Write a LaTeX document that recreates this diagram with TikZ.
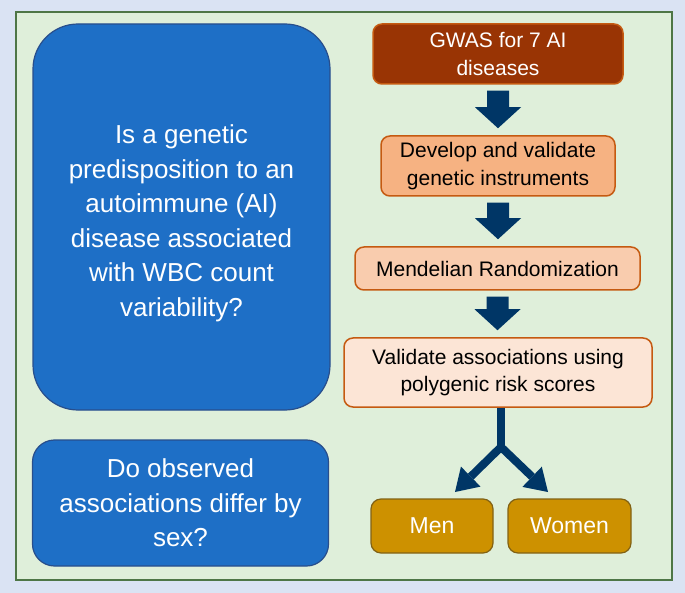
\documentclass[tikz,border=0pt]{standalone}
\usepackage{fontspec}
\setmainfont{Liberation Sans}
\usetikzlibrary{arrows.meta,calc}
\definecolor{AiPanel}{RGB}{218,227,243}
\definecolor{AiGreen}{RGB}{223,239,218}
\definecolor{AiGreenEdge}{RGB}{78,118,70}
\definecolor{AiBlue}{RGB}{30,111,198}
\definecolor{AiBlueEdge}{RGB}{40,78,140}
\definecolor{AiRust}{RGB}{153,52,4}
\definecolor{AiPeach}{RGB}{246,178,130}
\definecolor{AiSalmon}{RGB}{249,204,174}
\definecolor{AiCream}{RGB}{252,229,214}
\definecolor{AiOrangeEdge}{RGB}{197,90,17}
\definecolor{AiGold}{RGB}{205,145,0}
\definecolor{AiGoldEdge}{RGB}{130,98,20}
\definecolor{AiNavy}{RGB}{0,54,102}
\tikzset{
  ai/question/.style={
    draw=AiBlueEdge,
    line width=1.2pt,
    fill=AiBlue,
    text=white,
    align=center,
    inner sep=0pt,
    font=\fontsize{26}{34.5}\selectfont
  },
  ai/stage/.style={
    draw=AiOrangeEdge,
    line width=1.5pt,
    rounded corners=9pt,
    align=center,
    text=black,
    inner sep=0pt,
    font=\fontsize{21}{27.5}\selectfont
  },
  ai/group/.style={
    draw=AiGoldEdge,
    line width=1.2pt,
    fill=AiGold,
    rounded corners=10pt,
    text=white,
    inner sep=0pt,
    minimum height=54pt,
    font=\fontsize{23}{28}\selectfont
  },
  % block arrow: stem 22pt wide, head 46pt wide and 21pt long
  ai/block/.style={
    fill=AiNavy,
    to path={let \p1=(\tikztostart), \p2=(\tikztotarget) in
      (\x1-11pt,\y1-6pt) -- (\x1+11pt,\y1-6pt) -- (\x1+11pt,\y2+28pt) -- (\x1+23pt,\y2+28pt)
      -- (\x1,\y2+7pt) -- (\x1-23pt,\y2+28pt) -- (\x1-11pt,\y2+28pt) -- cycle}
  },
  ai/stem/.style={line width=8pt, draw=AiNavy},
  ai/fork/.style={{Triangle[length=22pt,width=28pt,line width=0pt]}-{Triangle[length=22pt,width=28pt,line width=0pt]}, line width=8pt, draw=AiNavy, line join=round}
}

\begin{document}
\begin{tikzpicture}[x=1pt,y=-1pt]
  \useasboundingbox (0,0) rectangle (685,593);
  \fill[AiPanel] (0,0) rectangle (685,593);
  \draw[fill=AiGreen, draw=AiGreenEdge, line width=1.5pt] (16,12) rectangle (672,580);

  % research questions
  \node[ai/question,rounded corners=45pt,minimum width=297pt,minimum height=386pt] (q1) at (181.5,217)
    {\\[-3pt]Is a genetic\\predisposition to an\\autoimmune (AI)\\disease associated\\with WBC count\\variability?};
  \node[ai/question,rounded corners=22pt,minimum width=296pt,minimum height=126pt] (q2) at (180.5,503)
    {Do observed\\associations differ by\\sex?};

  % workflow
  \node[ai/stage,fill=AiRust,text=white,minimum width=250pt,minimum height=60pt] (gwas) at (498,54) {GWAS for 7 AI\\diseases};
  \node[ai/stage,fill=AiPeach,minimum width=234pt,minimum height=60pt] (develop) at (498,166) {Develop and validate\\genetic instruments};
  \node[ai/stage,fill=AiSalmon,minimum width=285pt,minimum height=43pt] (mr) at (497.5,268.5) {Mendelian Randomization};
  \node[ai/stage,fill=AiCream,minimum width=308pt,minimum height=69pt] (validate) at (498,372.5) {Validate associations using\\polygenic risk scores};
  \node[ai/group,minimum width=122pt] (men) at (432,526) {Men};
  \node[ai/group,minimum width=123pt] (women) at (569.5,526) {Women};

  \fill[ai/block] (gwas.south) to (develop.north);
  \fill[ai/block] (develop.south) to (mr.north);
  \fill[ai/block] (mr.south) to (validate.north);

  % split by sex
  \coordinate (split) at (501,447);
  \coordinate (tipmen) at (455,492);
  \coordinate (tipwomen) at (548,492);
  \draw[ai/stem] (validate.south -| split) -- (split);
  \draw[ai/fork] (tipmen) -- (split) -- (tipwomen);
\end{tikzpicture}
\end{document}
